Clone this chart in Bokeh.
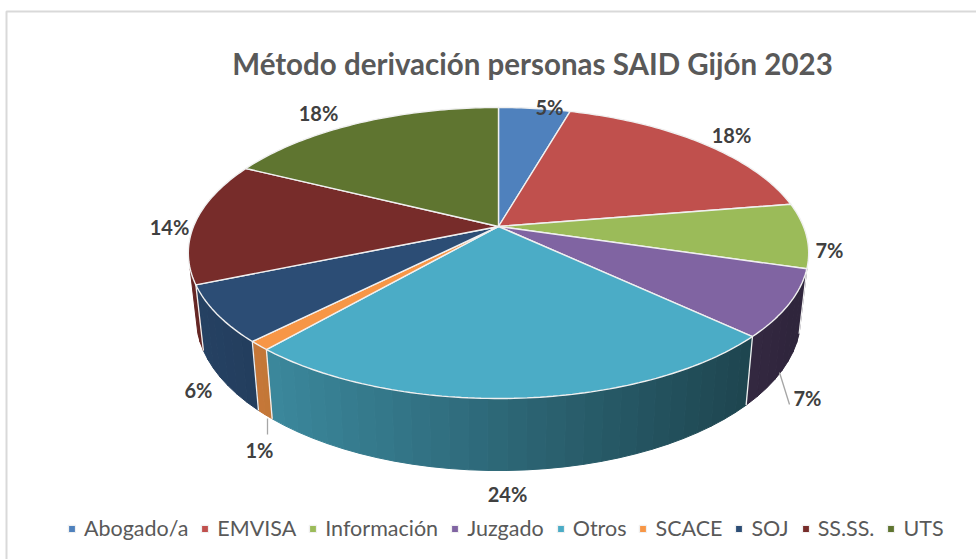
import numpy as np
from bokeh.core.properties import value
from bokeh.embed import file_html
from bokeh.models import Label, Legend, LegendItem, Range1d
from bokeh.plotting import figure
from bokeh.resources import INLINE

TITLE = "Método derivación personas SAID Gijón 2023"
categories = ["Abogado/a", "EMVISA", "Información", "Juzgado", "Otros", "SCACE", "SOJ", "SS.SS.", "UTS"]
values = [4.45, 17.95, 7.2, 7.4, 24.4, 1.0, 6.3, 13.65, 17.65]
pct_labels = ["5%", "18%", "7%", "7%", "24%", "1%", "6%", "14%", "18%"]
colors = ["#4f81bd", "#c0504d", "#9bbb59", "#8064a2", "#4bacc6", "#f79646", "#2c4d75", "#772c2a", "#5f7530"]
label_x = [549, 731, 829, 807, 507, 259, 198, 169, 318]
label_y = [106, 134, 249, 397, 493, 449, 389, 226, 112]

# projection of the pie disc (perspective tilt)
CX, CY, A, B, K = 498.0, 226.0, 305.0, 140.7, 0.182
EDGE = "#f0f0f0"


def top(theta):
    u, v = np.sin(theta), -np.cos(theta)
    d = 1 - K * v
    return CX + A * u / d, CY + B * v / d


def bottom(theta):
    x, y = top(theta)
    return CX + (x - CX) * 0.975, y + 65 + 0.055 * (y - 270)


def shade(hex_color, f):
    rgb = [int(hex_color[i:i + 2], 16) for i in (1, 3, 5)]
    return "#%02x%02x%02x" % tuple(int(round(c * f)) for c in rgb)


p = figure(width=976, height=559, x_range=Range1d(0, 976), y_range=Range1d(559, 0),
           output_backend="svg", toolbar_location=None, min_border=0, outline_line_color=None)
p.axis.visible = False
p.grid.visible = False

p.quad(left=6, right=990, top=11, bottom=575, fill_color="white", line_color="#d9d9d9", line_width=2)

edges = np.cumsum([0] + values) / sum(values) * 2 * np.pi

# side wall, drawn strip by strip in angular order so that neighbours overlap
strips = []
for i, col in enumerate(colors):
    n = max(2, int(np.degrees(edges[i + 1] - edges[i]) / 3))
    th = np.linspace(edges[i], edges[i + 1], n + 1)
    for a, b in zip(th[:-1], th[1:]):
        if -np.cos((a + b) / 2) < 0.28:
            continue
        xa, ya = top(a); xb, yb = top(b); xc, yc = bottom(b); xd, yd = bottom(a)
        f = 0.84 - 0.47 * np.clip(((xa + xb) / 2 - 200) / 590, 0, 1)
        strips.append(([xa, xb, xc, xd], [ya, yb, yc, yd], shade(col, f)))
p.patches([s[0] for s in strips], [s[1] for s in strips], fill_color=[s[2] for s in strips],
          line_color=[s[2] for s in strips], line_width=1)

# boundaries on the wall
wx, wy = [], []
for e in edges[1:]:
    if -np.cos(e) >= 0.28:
        x0, y0 = top(e); x1, y1 = bottom(e)
        wx.append([x0, x1]); wy.append([y0, y1])
p.multi_line(wx, wy, line_color=EDGE, line_width=1.3)

# top faces
items = []
for i, (cat, col) in enumerate(zip(categories, colors)):
    n = max(2, int(np.degrees(edges[i + 1] - edges[i])))
    th = np.linspace(edges[i], edges[i + 1], n + 1)
    x, y = top(th)
    r = p.patch(np.r_[CX, x], np.r_[CY, y], fill_color=col, line_color=EDGE, line_width=1.4)
    items.append(LegendItem(label=cat, renderers=[r]))

# leader lines
p.segment([267, 779], [418, 372], [267, 789], [434, 404], line_color="#a6a6a6", line_width=1.3)

p.text(label_x, label_y, text=pct_labels, text_align="center", text_baseline="middle",
       text_font=value("Lato"), text_font_style="bold", text_font_size="20px", text_color="#404040")

p.add_layout(Label(x=532, y=63, text=TITLE, text_align="center", text_baseline="middle",
                   text_font="Lato", text_font_style="bold", text_font_size="29.5px", text_color="#595959"))

legend = Legend(items=items, orientation="horizontal", location=(67, 18), border_line_color=None,
                background_fill_alpha=0, label_text_font="Lato", label_text_font_size="21.5px",
                label_text_color="#595959", glyph_width=9, glyph_height=9, spacing=12,
                label_standoff=8, padding=0, margin=0)
p.add_layout(legend, "center")

open("out.html", "w").write(file_html(p, INLINE))
